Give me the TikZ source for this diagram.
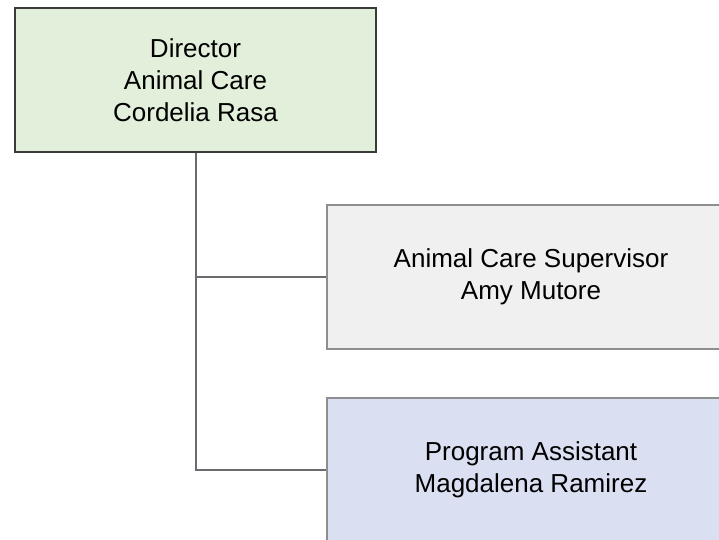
\documentclass[tikz,border=0pt]{standalone}
\usepackage{fontspec}
\setmainfont{Liberation Sans}
\definecolor{greenfill}{HTML}{E2EFDA}
\definecolor{greyfill}{HTML}{F0F0F0}
\definecolor{bluefill}{HTML}{DAE0F2}
\definecolor{darkborder}{HTML}{3A3A3A}
\definecolor{greyborder}{HTML}{8E8E8E}
\definecolor{linkcol}{HTML}{6B6B6F}
\tikzset{
  orgbox/.style={draw, rectangle, minimum height=144pt, align=center, inner sep=0pt,
    font=\fontsize{26}{32}\selectfont},
  topbox/.style={orgbox, fill=greenfill, draw=darkborder, line width=1.2pt, minimum width=361pt},
  subbox/.style={orgbox, draw=greyborder, line width=1.6pt, minimum width=408pt},
  link/.style={draw=linkcol, line width=2pt}
}
\begin{document}
\begin{tikzpicture}[x=1pt,y=-1pt]
\useasboundingbox (0,0) rectangle (719,539);
\clip (0,0) rectangle (719,539);
\node[topbox] (director) at (195.5,80) {Director\\Animal Care\\Cordelia Rasa};
\node[subbox, fill=greyfill] (supervisor) at (531,277) {Animal Care Supervisor\\Amy Mutore};
\node[subbox, fill=bluefill] (assistant) at (531,470) {Program Assistant\\Magdalena Ramirez};
\draw[link] (director.south) |- (supervisor.west);
\draw[link] (director.south) |- (assistant.west);
\end{tikzpicture}
\end{document}
